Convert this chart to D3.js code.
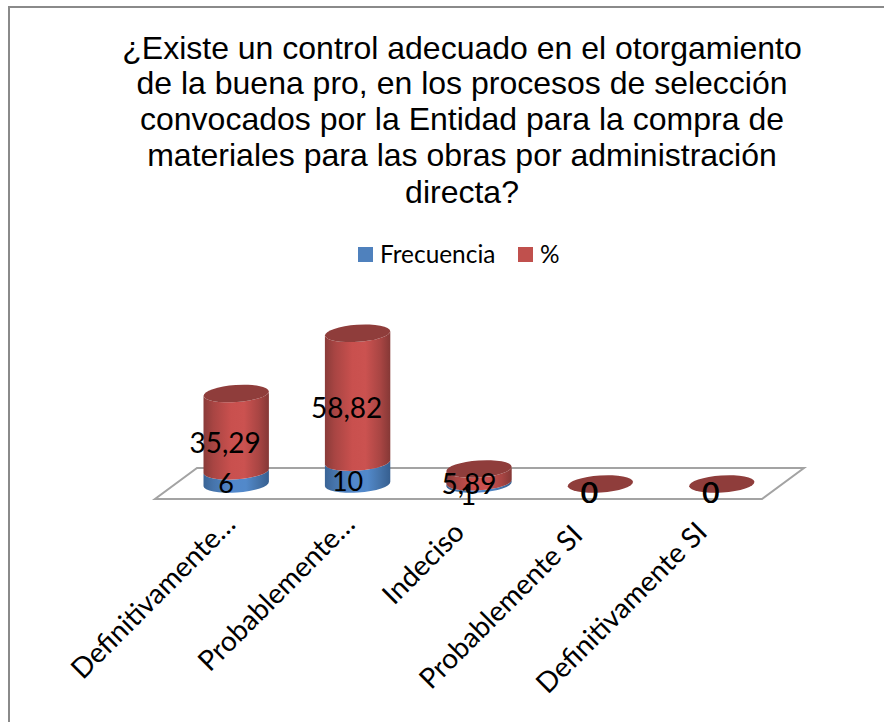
<!DOCTYPE html>
<html><head><meta charset="utf-8">
<style>html,body{margin:0;padding:0;background:#fff}svg{display:block}</style>
<script src="https://cdn.jsdelivr.net/npm/d3@7/dist/d3.min.js"></script>
</head><body><svg id="c" width="884" height="722"></svg>
<script>
const titleLines = ["¿Existe un control adecuado en el otorgamiento","de la buena pro, en los procesos de selección","convocados por la Entidad para la compra de","materiales para las obras por administración","directa?"];
const categories = ["Definitivamente…","Probablemente…","Indeciso","Probablemente SI","Definitivamente SI"];
const frecuencia = [6,10,1,0,0];
const porcentaje = [35.29,58.82,5.89,0,0];
const frecuenciaLabels = ["6","10","1","0","0"];
const porcentajeLabels = ["35,29","58,82","5,89","0","0"];
const seriesNames = ["Frecuencia","%"];

const svg = d3.select("#c");
const labelFont = "Lato, 'Open Sans', sans-serif";
const defs = svg.append("defs");
function grad(id, stops){
  const g = defs.append("linearGradient").attr("id",id).attr("x1","0").attr("x2","1").attr("y1","0").attr("y2","0");
  stops.forEach(s=>g.append("stop").attr("offset",s[0]).attr("stop-color",s[1]));
}
grad("red",[[0,"#8a3b39"],[0.15,"#a84543"],[0.42,"#c9504e"],[0.62,"#cb5250"],[0.85,"#a84543"],[1,"#853836"]]);
grad("blue",[[0,"#3a6496"],[0.15,"#4674ab"],[0.45,"#5288cb"],[0.65,"#5289ca"],[0.85,"#4472a8"],[1,"#365f90"]]);

svg.append("path").attr("d","M9,722V7H884").attr("fill","none").attr("stroke","#8a8a8a").attr("stroke-width",2);

const titleY = [59,94,130,166,203];
svg.append("g").selectAll("text").data(titleLines).join("text")
  .attr("x",462).attr("y",(d,i)=>titleY[i]).attr("text-anchor","middle")
  .attr("font-family","'Liberation Sans', Arial, sans-serif").attr("font-size",32).attr("fill","#000").text(d=>d);

// legend
const legend = svg.append("g");
const legendX = [358,518], legendTextX=[380,540];
seriesNames.forEach((n,i)=>{
  legend.append("rect").attr("x",legendX[i]).attr("y",247).attr("width",15).attr("height",15).attr("fill",i?"#c0504d":"#4f81bd");
  legend.append("text").attr("x",legendTextX[i]).attr("y",263).attr("font-family",labelFont).attr("font-size",24.4).attr("fill","#000").text(n);
});

// scales
const x = d3.scaleBand().domain(categories).range([176,783]);
const y = d3.scaleLinear().domain([0,100]).range([484,265]);
const rx = 32.7, ry = 8.5, tilt = -4;

// floor
const floorFront = 499, floorBack = 468;
const fx0 = x.range()[0]-21, fx1 = x.range()[1]-21, shift = 42;
svg.append("path")
  .attr("d",d3.line()([[fx0,floorFront],[fx1,floorFront],[fx1+shift,floorBack],[fx0+shift,floorBack]])+"Z")
  .attr("fill","none").attr("stroke","#a3a3a3").attr("stroke-width",2);

function cyl(g, cx, y0, y1, fill, top){
  const dy = rx*Math.sin(-tilt*Math.PI/180);
  const a=`${rx} ${ry} ${tilt}`;
  g.append("path").attr("d",
    `M${cx-rx},${y1+dy}L${cx-rx},${y0+dy}A${a} 0 0 ${cx+rx},${y0-dy}L${cx+rx},${y1-dy}A${a} 0 1 ${cx-rx},${y1+dy}Z`)
    .attr("fill",fill);
  if(top) g.append("ellipse").attr("rx",rx).attr("ry",ry)
    .attr("transform",`translate(${cx},${y1}) rotate(${tilt})`).attr("fill",top);
}
const bars = svg.append("g");
categories.forEach((c,i)=>{
  const cx = x(c)+x.bandwidth()/2-0.5;
  const g = bars.append("g");
  const yA = y(frecuencia[i]), yB = y(frecuencia[i]+porcentaje[i]);
  if(frecuencia[i]>0) cyl(g,cx,y(0),yA,"url(#blue)");
  if(porcentaje[i]>0) cyl(g,cx,yA,yB,"url(#red)","#8f3d3b");
  else g.append("ellipse").attr("rx",rx).attr("ry",ry).attr("transform",`translate(${cx},${yB}) rotate(${tilt})`).attr("fill","#8f3d3b");
});

// data labels (centred on each stacked segment, pulled left as in the reference)
const labels = svg.append("g").attr("font-family",labelFont).attr("font-size",28).attr("fill","#000").attr("text-anchor","middle");
const dxF = [-10,-10,-11,-11.4,-11.4], dyF=[16,18,22,19,19], fs=[27,27,28,29,29];
const dxP = [-11,-11,-10,-10.6,-10.6], dyP=[21,20,19,19,19];
categories.forEach((c,i)=>{
  const cx = x(c)+x.bandwidth()/2-0.5;
  const yA = y(frecuencia[i]), yB = y(frecuencia[i]+porcentaje[i]);
  labels.append("text").attr("x",cx+dxF[i]).attr("y",(y(0)+yA)/2+dyF[i]).attr("font-size",fs[i]).text(frecuenciaLabels[i]);
  labels.append("text").attr("x",cx+dxP[i]).attr("y",(yA+yB)/2+dyP[i]).attr("font-size",i>2?29:28).text(porcentajeLabels[i]);
});

// axis tick labels
const ticks = svg.append("g").attr("font-family",labelFont).attr("font-size",28).attr("fill","#000");
const tickDx=[1,-1,-13,-16,-13], tickDy=[1,1,9,12,9];
categories.forEach((c,i)=>{
  const px = x(c)+x.bandwidth()/2-0.5;
  ticks.append("text").attr("text-anchor","end").attr("transform",`translate(${px+tickDx[i]},${525+tickDy[i]}) rotate(-45)`).text(c);
});
</script></body></html>
